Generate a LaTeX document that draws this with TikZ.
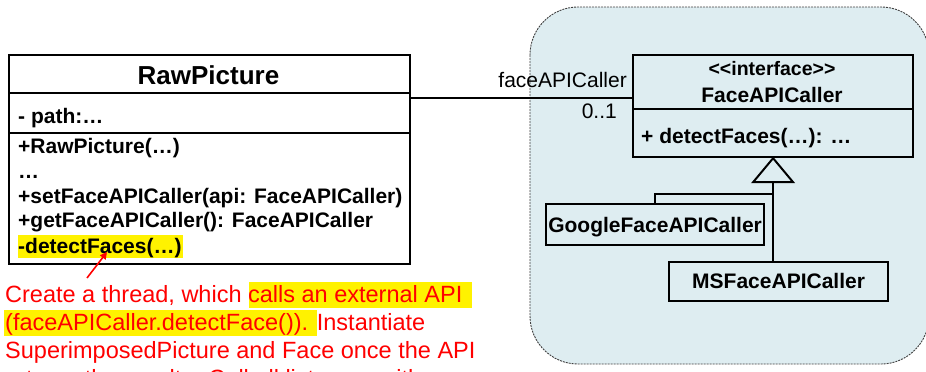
\documentclass[tikz,border=0pt]{standalone}
\usepackage{fontspec}
\setmainfont{Liberation Sans}
\usetikzlibrary{arrows.meta,calc}

\definecolor{pkgblue}{HTML}{DEEDF1}
\tikzset{
  umlbox/.style={draw=black, line width=2.2pt, inner sep=0pt, anchor=north west},
  divider/.style={draw=black, line width=2.2pt},
  member/.style={inner sep=0pt, anchor=base west, font=\fontsize{21}{25}\selectfont\bfseries},
  classname/.style={inner sep=0pt, anchor=base, font=\fontsize{21}{25}\selectfont\bfseries},
  rolelabel/.style={inner sep=0pt, anchor=base east, font=\fontsize{21}{25}\selectfont},
  note/.style={inner sep=0pt, anchor=base west, text=red, font=\fontsize{23.5}{28}\selectfont},
  hilite/.style={fill=yellow, draw=none},
  link/.style={draw=black, line width=2.2pt},
  package/.style={draw=black!75, fill=pkgblue, line width=0.9pt, dash pattern=on 2pt off 1pt, rounded corners=48pt},
}

\begin{document}
\begin{tikzpicture}[x=1pt, y=-1pt]
  \useasboundingbox (0,0) rectangle (926,372);
  \clip (0,0) rectangle (926,372);

  % package region holding the API callers
  \draw[package] (530,7) rectangle (929,364);

  % highlights
  \fill[hilite] (18,235) rectangle (183,258);
  \fill[hilite] (249,282) rectangle (472,308);
  \fill[hilite] (4,310) rectangle (317,336);

  % class RawPicture
  \node[umlbox, minimum width=401pt, minimum height=209pt] (raw) at (8,54) {};
  \draw[divider] (raw.west |- 0,93) -- (raw.east |- 0,93);
  \draw[divider] (raw.west |- 0,133) -- (raw.east |- 0,133);
  \node[classname, font=\fontsize{26}{30}\selectfont\bfseries] (rawname) at (208.5,84) {RawPicture};
  \node[member] (rawattr) at (18,123) {- path:…};
  \node[member] (m1) at (18,153) {+RawPicture(…)};
  \node[member] (m2) at (18,178) {…};
  \node[member] (m3) at (18,203) {+setFaceAPICaller(api: FaceAPICaller)};
  \node[member] (m4) at (18,227) {+getFaceAPICaller(): FaceAPICaller};
  \node[member] (m5) at (18,253) {-detectFaces(…)};

  % interface FaceAPICaller (kerns keep << and >> from turning into guillemets)
  \node[umlbox, minimum width=280pt, minimum height=102pt] (iface) at (632,54) {};
  \draw[divider] (iface.west |- 0,109) -- (iface.east |- 0,109);
  \node[classname, font=\fontsize{19.5}{24}\selectfont\bfseries] (stereo) at (772,75) {<\kern0pt<interface>\kern0pt>};
  \node[classname] (ifacename) at (772,102) {FaceAPICaller};
  \node[member] (ifaceop) at (641,143) {+ detectFaces(…): …};

  % association
  \coordinate (assocY) at (0,98);
  \draw[link] (raw.east |- assocY) -- (iface.west |- assocY);
  \node[rolelabel] (role) at (627,87) {faceAPICaller};
  \node[rolelabel] (mult) at (617,118) {0..1};

  % implementing classes
  \node[umlbox, minimum width=218pt, minimum height=41pt] (google) at (545,203) {};
  \node[classname] (googlename) at (google.center |- 0,232) {GoogleFaceAPICaller};
  \node[umlbox, minimum width=219pt, minimum height=39pt] (ms) at (668,261) {};
  \node[classname] (msname) at (ms.center |- 0,288) {MSFaceAPICaller};

  % realization hierarchy
  \coordinate (tribase) at ($(iface.south)+(0,24)$);
  \coordinate (branch) at ($(iface.south)+(0,36)$);
  \draw[link, line width=2pt, line join=miter] (iface.south) -- ($(tribase)+(-20,0)$) -- ($(tribase)+(20,0)$) -- cycle;
  \draw[link] (tribase) -- (tribase |- ms.north);
  \draw[link] (branch) -- (branch -| google.north) -- (google.north);

  % note about detectFaces
  \coordinate (notetail) at (87,278);
  \coordinate (notehead) at (107,252);
  \draw[red, line width=1.6pt, -{Triangle[length=7pt,width=7pt]}] (notetail) -- (notehead);
  \node[note] (r1) at (5,302) {Create a thread, which calls an external API};
  \node[note] (r2) at (5,330) {(faceAPICaller.detectFace()). Instantiate};
  \node[note] (r3) at (5,358) {SuperimposedPicture and Face once the API};
  \node[note] (r4) at (5,386) {returns the results. Call all listeners with};
\end{tikzpicture}
\end{document}
